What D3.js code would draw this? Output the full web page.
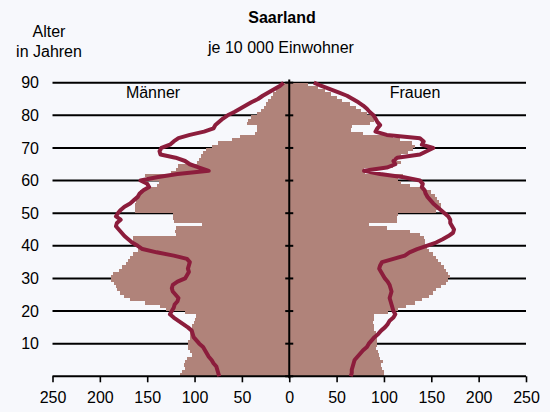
<!DOCTYPE html>
<html>
<head>
<meta charset="utf-8">
<script src="https://cdn.jsdelivr.net/npm/d3@7"></script>
<style>
  body { margin: 0; background: #f7f8fc; }
  svg text { font-family: "Liberation Sans", Arial, sans-serif; fill: #000; }
</style>
</head>
<body>
<div class="chart"></div>
<script>
// Alter 0..89, Balken je 10 000 Einwohner
const ages = d3.range(0, 90);
const menBars = [115, 113, 110, 111, 110, 108, 103, 105, 107, 107,
  107, 105, 105, 105, 103, 103, 101, 100, 98, 110,
  130, 137, 152, 168, 174, 179, 182, 183, 185, 188,
  188, 186, 180, 177, 172, 170, 168, 165, 160, 160,
  162, 165, 165, 120, 121, 120, 92, 122, 123, 123,
  163, 163, 163, 162, 162, 160, 158, 150, 140, 138,
  150, 152, 125, 120, 118, 97, 95, 93, 91, 88,
  82, 75, 60, 52, 36, 34, 34, 45, 44, 40,
  34, 30, 27, 25, 22, 19, 17, 14, 12, 9];
const womenBars = [100, 100, 98, 97, 99, 96, 95, 94, 92, 93,
  93, 93, 93, 92, 90, 89, 88, 89, 90, 104,
  115, 123, 133, 140, 148, 152, 155, 160, 165, 168,
  170, 168, 165, 163, 160, 157, 155, 152, 148, 145,
  143, 143, 142, 138, 128, 103, 84, 114, 114, 115,
  155, 160, 160, 158, 156, 154, 150, 140, 128, 118,
  115, 120, 80, 79, 110, 118, 110, 118, 125, 131,
  133, 130, 117, 110, 78, 65, 66, 85, 90, 88,
  82, 76, 70, 64, 56, 50, 44, 38, 30, 20];

// Linie, Alter 0..90
const lineAges = d3.range(0, 91);
const menLine = [74, 75, 76, 77, 80, 82, 85, 87, 89, 91,
  95, 98, 101, 102, 103, 107, 112, 117, 122, 126,
  124, 122, 121, 118, 117, 120, 123, 124, 123, 118,
  110, 108, 106, 107, 106, 105, 108, 122, 140, 155,
  160, 166, 170, 174, 177, 180, 183, 182, 178, 183,
  181, 178, 174, 168, 164, 160, 158, 154, 148, 150,
  157, 140, 118, 85, 95, 105, 110, 120, 136, 137,
  135, 126, 122, 117, 105, 90, 80, 78, 74, 70,
  65, 58, 52, 46, 40, 33, 28, 22, 16, 10, 6];
const womenLine = [65, 66, 66, 67, 68, 69, 72, 75, 78, 82,
  84, 87, 90, 94, 97, 101, 104, 106, 110, 112,
  110, 109, 108, 107, 106, 107, 108, 107, 106, 104,
  101, 99, 97, 95, 96, 98, 110, 122, 127, 135,
  145, 155, 162, 168, 173, 174, 172, 170, 170, 168,
  164, 160, 156, 152, 149, 146, 144, 143, 140, 141,
  138, 121, 96, 79, 103, 112, 110, 114, 138, 145,
  152, 140, 142, 138, 103, 91, 93, 96, 93, 91,
  89, 85, 82, 78, 73, 67, 61, 52, 43, 34, 26];

const xTicks = [-250, -200, -150, -100, -50, 0, 50, 100, 150, 200, 250];
const yTicks = [10, 20, 30, 40, 50, 60, 70, 80, 90];

const svg = d3.select(".chart").append("svg")
  .attr("width", 550)
  .attr("height", 412);

const x = d3.scaleLinear().domain([-250, 250]).range([52.5, 526]);
const y = d3.scaleLinear().domain([0, 90]).range([376.3, 82.7]);

// Gitterlinien (hinter den Balken)
svg.append("g").selectAll("line")
  .data(yTicks)
  .enter().append("line")
  .attr("x1", x(-250)).attr("x2", x(250))
  .attr("y1", d => y(d)).attr("y2", d => y(d))
  .attr("stroke", "#000")
  .attr("stroke-width", 2);

const barColor = "#b0837a";

svg.append("g").selectAll("rect")
  .data(ages)
  .enter().append("rect")
  .attr("x", a => x(-menBars[a]))
  .attr("y", a => y(a + 1))
  .attr("width", a => x(0) - x(-menBars[a]))
  .attr("height", a => y(a) - y(a + 1))
  .attr("fill", barColor)
  .attr("shape-rendering", "crispEdges");

svg.append("g").selectAll("rect")
  .data(ages)
  .enter().append("rect")
  .attr("x", x(0))
  .attr("y", a => y(a + 1))
  .attr("width", a => x(womenBars[a]) - x(0))
  .attr("height", a => y(a) - y(a + 1))
  .attr("fill", barColor)
  .attr("shape-rendering", "crispEdges");

// x-Achse
const xAxis = d3.axisBottom(x)
  .tickValues(xTicks)
  .tickSize(6)
  .tickFormat(d => Math.abs(d));

const gx = svg.append("g")
  .attr("transform", `translate(0,${y(0)})`)
  .call(xAxis);
gx.select(".domain").attr("stroke-width", 2).attr("d", `M${x(-250)},0H${x(250)}`);
gx.selectAll(".tick line").attr("stroke-width", 1.6);
gx.selectAll(".tick text")
  .attr("y", 15)
  .style("font-size", "16px")
  .style("font-family", "Liberation Sans, Arial, sans-serif");

// mittlere Achse
svg.append("line")
  .attr("x1", x(0)).attr("x2", x(0))
  .attr("y1", y(91)).attr("y2", y(0) + 2)
  .attr("stroke", "#000")
  .attr("stroke-width", 2);

svg.append("g").selectAll("line")
  .data(yTicks.concat([0]))
  .enter().append("line")
  .attr("x1", x(0) - 4).attr("x2", x(0) + 4)
  .attr("y1", d => y(d)).attr("y2", d => y(d))
  .attr("stroke", "#000")
  .attr("stroke-width", 2);

// y-Beschriftung
svg.append("g").selectAll("text")
  .data(yTicks)
  .enter().append("text")
  .attr("x", 39)
  .attr("y", d => y(d))
  .attr("dy", "0.35em")
  .attr("text-anchor", "end")
  .style("font-size", "16px")
  .text(d => d);

// Linien
const lineColor = "#8c1d3c";
const menPath = d3.line()
  .x(a => x(-menLine[a]))
  .y(a => y(a));
const womenPath = d3.line()
  .x(a => x(womenLine[a]))
  .y(a => y(a));

svg.append("path")
  .attr("d", menPath(lineAges))
  .attr("fill", "none")
  .attr("stroke", lineColor)
  .attr("stroke-width", 4)
  .attr("stroke-linejoin", "round");

svg.append("path")
  .attr("d", womenPath(lineAges))
  .attr("fill", "none")
  .attr("stroke", lineColor)
  .attr("stroke-width", 4)
  .attr("stroke-linejoin", "round");

// Texte
svg.append("text").attr("x", 282).attr("y", 23)
  .attr("text-anchor", "middle")
  .style("font-size", "16px").style("font-weight", "bold")
  .text("Saarland");
svg.append("text").attr("x", 281).attr("y", 53)
  .attr("text-anchor", "middle")
  .style("font-size", "16px")
  .text("je 10 000 Einwohner");
svg.append("text").attr("x", 49).attr("y", 37)
  .attr("text-anchor", "middle")
  .style("font-size", "16px")
  .text("Alter");
svg.append("text").attr("x", 49).attr("y", 57)
  .attr("text-anchor", "middle")
  .style("font-size", "16px")
  .text("in Jahren");
svg.append("text").attr("x", 153).attr("y", 98)
  .attr("text-anchor", "middle")
  .style("font-size", "16px")
  .text("Männer");
svg.append("text").attr("x", 415).attr("y", 98)
  .attr("text-anchor", "middle")
  .style("font-size", "16px")
  .text("Frauen");
</script>
</body>
</html>
